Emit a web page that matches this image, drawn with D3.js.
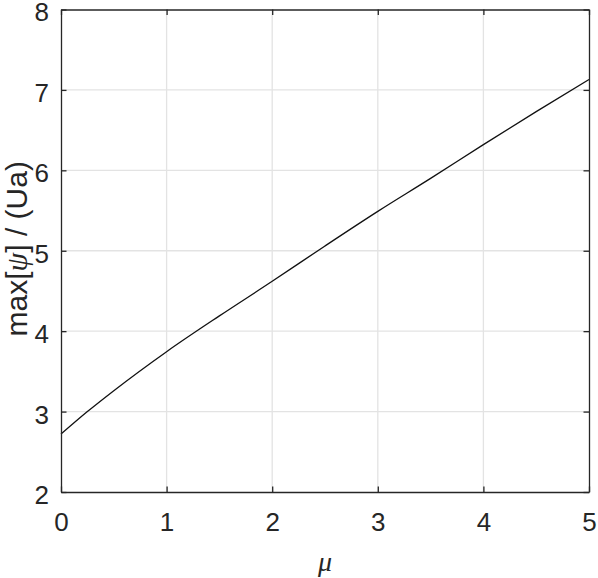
<!DOCTYPE html>
<html>
<head>
<meta charset="utf-8">
<script src="https://cdn.jsdelivr.net/npm/d3@7"></script>
<style>
  body { margin: 0; background: #fff; }
  svg { display: block; }
  text { font-family: "Liberation Sans", Arial, sans-serif; fill: #262626; }
</style>
</head>
<body>
<div id="viz"></div>
<script>
// curve
var muValues = [0, 0.25, 0.5, 1, 1.5, 2, 2.5, 3, 3.5, 4, 4.5, 5];
var psiMax   = [2.72, 3.0, 3.26, 3.745, 4.19, 4.62, 5.06, 5.49, 5.90, 6.32, 6.73, 7.13];
var xTicks = [0, 1, 2, 3, 4, 5];
var yTicks = [2, 3, 4, 5, 6, 7, 8];

var width = 598,
    height = 578,
    plotLeft = 61,
    plotRight = 589,
    plotTop = 9.5,
    plotBottom = 492,
    axisColor = '#262626',
    gridColor = '#e3e3e3',
    tickLen = 5.5;

var xScale = d3.scaleLinear().domain([0, 5]).range([plotLeft, plotRight]);
var yScale = d3.scaleLinear().domain([2, 8]).range([plotBottom, plotTop]);

var svg = d3.select('#viz').append('svg')
  .attr('width', width)
  .attr('height', height);

// grid
svg.append('g').selectAll('line').data(xTicks.slice(1, -1))
  .enter().append('line')
    .attr('x1', function(d) { return xScale(d); })
    .attr('x2', function(d) { return xScale(d); })
    .attr('y1', plotTop).attr('y2', plotBottom)
    .attr('stroke', gridColor).attr('stroke-width', 1.3);

svg.append('g').selectAll('line').data(yTicks.slice(1, -1))
  .enter().append('line')
    .attr('y1', function(d) { return yScale(d); })
    .attr('y2', function(d) { return yScale(d); })
    .attr('x1', plotLeft).attr('x2', plotRight)
    .attr('stroke', gridColor).attr('stroke-width', 1.3);

// curve
var line = d3.line()
  .x(function(d, i) { return xScale(muValues[i]); })
  .y(function(d) { return yScale(d); })
  .curve(d3.curveMonotoneX);

svg.append('path')
  .datum(psiMax)
  .attr('d', line)
  .attr('fill', 'none')
  .attr('stroke', '#111')
  .attr('stroke-width', 1.3);

// axes (box with inward ticks)
function styleAxis(g) {
  g.select('.domain').attr('stroke', axisColor).attr('stroke-width', 1.3);
  g.selectAll('.tick line').attr('stroke', axisColor).attr('stroke-width', 1.3);
  g.selectAll('.tick text').attr('fill', axisColor)
    .style('font-size', '26px')
    .style('font-family', '"Liberation Sans", Arial, sans-serif');
}

var fmt = d3.format('d');

svg.append('g')
  .attr('transform', 'translate(0,' + plotBottom + ')')
  .call(d3.axisBottom(xScale).tickValues(xTicks).tickFormat(fmt).tickSizeInner(-tickLen).tickSizeOuter(0).tickPadding(21))
  .call(styleAxis);

svg.append('g')
  .attr('transform', 'translate(0,' + plotTop + ')')
  .call(d3.axisTop(xScale).tickValues(xTicks).tickSizeInner(-tickLen).tickSizeOuter(0).tickFormat(''))
  .call(styleAxis);

svg.append('g')
  .attr('transform', 'translate(' + plotLeft + ',0)')
  .call(d3.axisLeft(yScale).tickValues(yTicks).tickFormat(fmt).tickSizeInner(-tickLen).tickSizeOuter(0).tickPadding(12))
  .call(styleAxis)
  .selectAll('.tick text').attr('dy', '0.44em');

svg.append('g')
  .attr('transform', 'translate(' + plotRight + ',0)')
  .call(d3.axisRight(yScale).tickValues(yTicks).tickSizeInner(-tickLen).tickSizeOuter(0).tickFormat(''))
  .call(styleAxis);

// labels
svg.append('text')
  .attr('x', (plotLeft + plotRight) / 2)
  .attr('y', 571)
  .attr('text-anchor', 'middle')
  .style('font-size', '28px')
  .style('font-family', '"Liberation Serif", serif')
  .style('font-style', 'italic')
  .text('μ');

var yLab = svg.append('text')
  .attr('transform', 'translate(27,' + ((plotTop + plotBottom) / 2 - 2) + ') rotate(-90)')
  .attr('text-anchor', 'middle')
  .style('font-size', '30px');
yLab.append('tspan').text('max[');
yLab.append('tspan')
  .style('font-family', '"Liberation Serif", serif')
  .style('font-style', 'italic')
  .text('ψ');
yLab.append('tspan').text('] / (Ua)');
</script>
</body>
</html>
